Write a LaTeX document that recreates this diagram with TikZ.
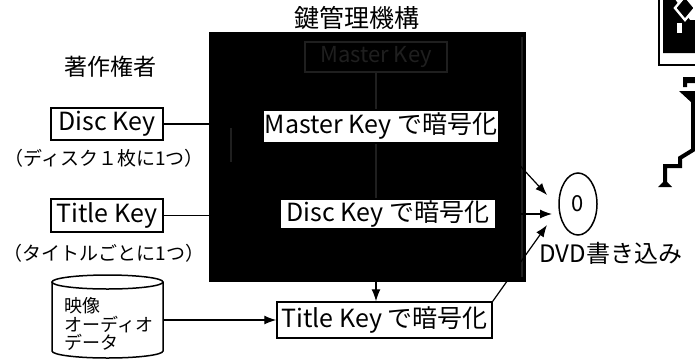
\documentclass[tikz,border=0pt]{standalone}
\usepackage{fontspec}
\setmainfont{Noto Sans CJK JP}
\usetikzlibrary{shapes.geometric,arrows.meta}
\colorlet{ghost}{black!88}

\begin{document}
\begin{tikzpicture}[x=0.5pt,y=-0.5pt,
  keybox/.style={draw=black,line width=0.75pt,fill=white,font=\fontsize{12.5}{14}\selectfont},
  note/.style={font=\fontsize{9.5}{11}\selectfont},
  link/.style={line width=0.6pt},
  feed/.style={line width=0.6pt,-{Latex[length=6pt,width=4.5pt]}}]
\tikzstyle{every node}+=[inner sep=0pt]
\useasboundingbox (0,0) rectangle (695,360);
\clip (0,0) rectangle (695,360);

% labels above
\node (kmstitle) at (357,18) [font=\fontsize{12.5}{14}\selectfont] {鍵管理機構};
\node (owner) at (110,67) [font=\fontsize{11.5}{14}\selectfont] {著作権者};

% key management block
\node (kms) [fill=black, minimum width=158.5pt, minimum height=125pt, anchor=north west] at (209,32) {};
\draw [ghost, link] (522,37) -- (522,277);
\draw [ghost, link] (231,128) -- (231,162);
\node (mkey) [draw=ghost, text=ghost, line width=0.6pt, minimum width=71pt, minimum height=15pt, font=\fontsize{11}{13}\selectfont] at (376,57) {Master Key};
\node (menc) [keybox, minimum width=118pt, minimum height=16.5pt] at (381,126.5) {Master Key で暗号化};
\node (denc) [keybox, minimum width=108pt, minimum height=15pt] at (388,214) {Disc Key で暗号化};
\node (tenc) [keybox, minimum width=107.5pt, minimum height=18pt] at (384.5,320) {Title Key で暗号化};
\draw [ghost, link] (mkey.south) -- (mkey.south |- menc.north);
\draw [ghost, link] (menc.south -| mkey.south) -- (denc.north -| mkey.south);
\draw [feed] (denc.south -| mkey.south) -- (tenc.north -| mkey.south);

% keys and content from the owner
\node (dkey) [keybox, minimum width=56pt, minimum height=16pt] at (107,124) {Disc Key};
\node (dnote) [note] at (104,158) {（ディスク１枚に1つ）};
\node (tkey) [keybox, minimum width=56pt, minimum height=16.5pt] at (107,215.5) {Title Key};
\node (tnote) [note] at (104,253) {（タイトルごとに1つ）};
\draw [link] (dkey) -- (dkey -| menc.west);
\draw [link] (tkey) -- (tkey -| denc.west);

% content drum
\draw [line width=0.75pt] (107.5,282) ellipse [x radius=55.5, y radius=7];
\draw [line width=0.75pt] (52,282) -- (52,351) arc [start angle=180, end angle=0, x radius=55.5, y radius=7] -- (163,282);
\node (mediatext) [anchor=west, align=left, font=\fontsize{9}{8.3}\selectfont] at (64,324) {映像\\オーディオ\\データ};
\coordinate (media) at (163,320);
\draw [feed] (media) -- (tenc.west);

% DVD
\node (disc) [ellipse, draw, line width=0.75pt, minimum width=19pt, minimum height=31pt, font=\fontsize{11}{12}\selectfont] at (578,204) {0};
\node (dvd) at (611,253) [font=\fontsize{12}{14}\selectfont] {DVD書き込み};
\coordinate (in1) at (547,195);
\coordinate (in2) at (552,214);
\coordinate (in3) at (547,225);
\draw [feed] (menc.south east) -- (in1);
\draw [feed] (denc.east) -- (in2);
\draw [feed] (tenc.north east) -- (in3);

% corner pictogram
\draw [line width=1.2pt] (659,-2) -- (659,65) -- (697,65);
\fill (663,-2) -- (674,-2) -- (690,20) -- (697,20) -- (697,53) -- (663,53) -- cycle;
\fill [white] (677,23) rectangle (682,33);
\filldraw [draw=white, line width=1.2pt] (685,-4) -- (695,8) -- (685,20) -- (675,8) -- cycle;
\fill (683,77) -- (697,77) -- (697,83) -- (687,83) -- (687,87) -- (683,87) -- cycle;
\fill (679,91) -- (697,91) -- (692,103) -- cycle;
\draw [line width=2pt] (693,91) -- (693,150) -- (680,158) -- (680,166) -- (665,166) -- (665,184);
\fill (658,187) -- (665,180) -- (672,187) -- cycle;
\end{tikzpicture}
\end{document}
